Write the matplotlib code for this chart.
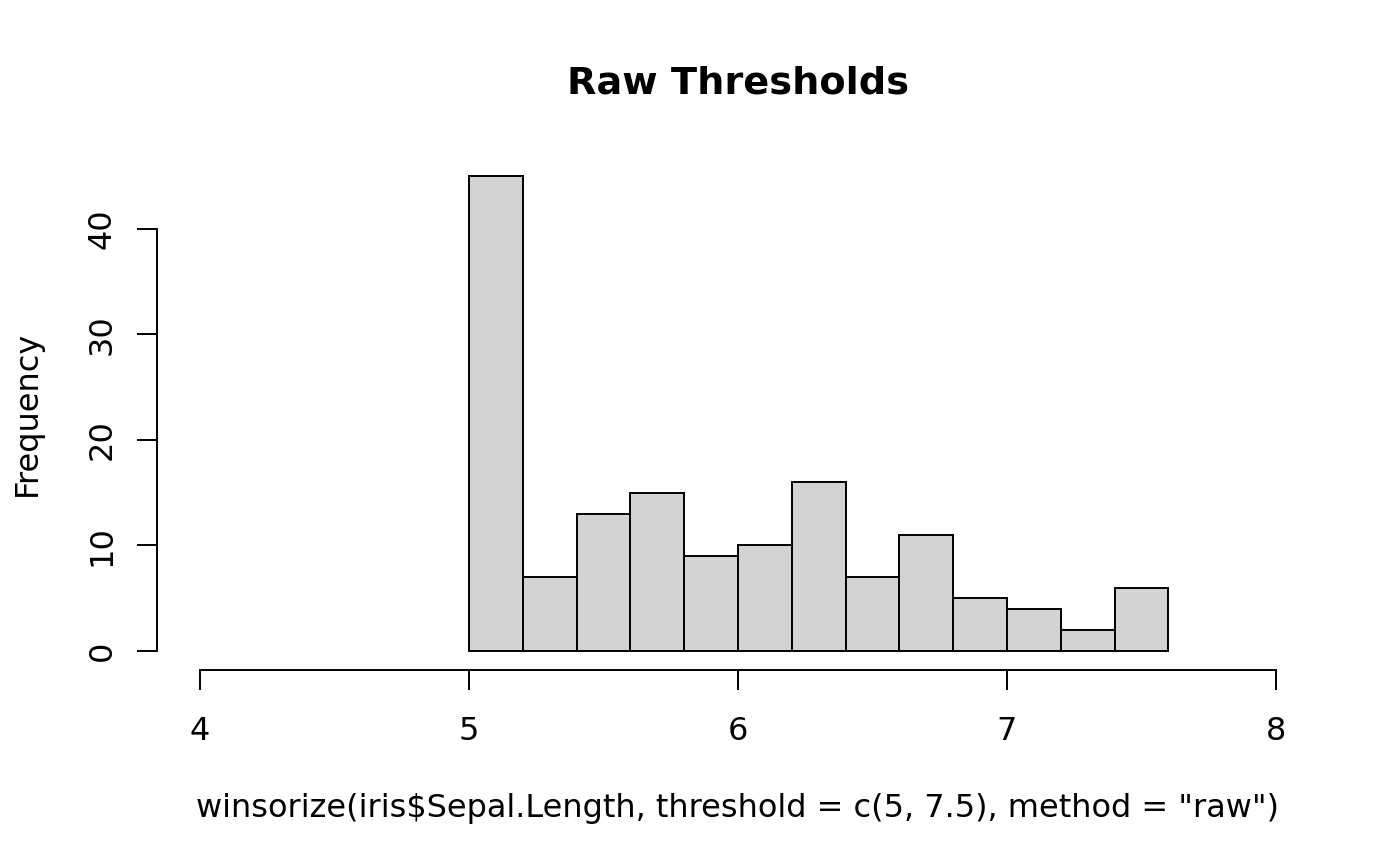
import numpy as np
import matplotlib
matplotlib.use("Agg")
import matplotlib.pyplot as plt

# histogram of winsorized sepal length (bins of width 0.2)
bin_edges = [5.0, 5.2, 5.4, 5.6, 5.8, 6.0, 6.2, 6.4, 6.6, 6.8, 7.0, 7.2, 7.4, 7.6]
counts = [45, 7, 13, 15, 9, 10, 16, 7, 11, 5, 4, 2, 6]
x_ticks = [4, 5, 6, 7, 8]
y_ticks = [0, 10, 20, 30, 40]

plt.rcParams['font.family'] = ['DejaVu Sans']

fig = plt.figure(figsize=(14, 8.66), dpi=100)
# R-style plot region: usr range padded 4% beyond the limits
ax = fig.add_axes([157 / 1400, 1 - 670 / 866, (1319 - 157) / 1400, (670 - 157) / 866])

lefts = np.array(bin_edges[:-1])
widths = np.diff(bin_edges)
ax.bar(lefts, counts, width=widths, align='edge', color='#d3d3d3',
       edgecolor='black', linewidth=1.4)

ax.set_xlim(3.84, 8.16)
ax.set_ylim(-1.8, 46.8)

for side in ['top', 'right']:
    ax.spines[side].set_visible(False)
ax.spines['left'].set_bounds(0, 40)
ax.spines['bottom'].set_bounds(4, 8)
for side in ['left', 'bottom']:
    ax.spines[side].set_linewidth(1.4)

ax.set_xticks(x_ticks)
ax.set_yticks(y_ticks)
ax.tick_params(axis='both', direction='out', length=14.4, width=1.4, labelsize=23)
ax.tick_params(axis='x', pad=19)
ax.tick_params(axis='y', pad=14)
for lbl in ax.get_yticklabels():
    lbl.set_rotation(90)
    lbl.set_va('center')

fig.text(738 / 1400, 1 - 93 / 866, 'Raw Thresholds', ha='center', va='baseline',
         fontsize=27.5, fontweight='bold')
fig.text(738 / 1400, 1 - 817 / 866,
         'winsorize(iris$Sepal.Length, threshold = c(5, 7.5), method = "raw")',
         ha='center', va='baseline', fontsize=23)
fig.text(12 / 1400, 1 - 413 / 866, 'Frequency', rotation=90, ha='left', va='center',
         fontsize=23)

fig.savefig('out.png', dpi=100)
